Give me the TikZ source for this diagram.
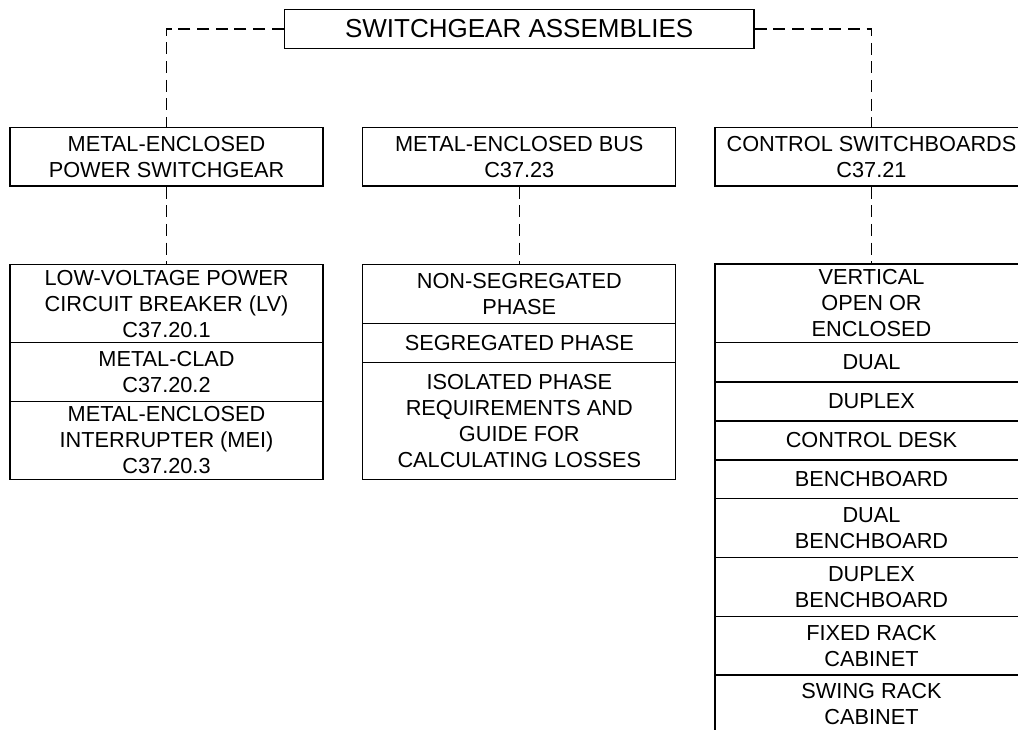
\documentclass[tikz,border=0pt]{standalone}
\usepackage{fontspec}
\setmainfont{Liberation Sans}
\usepackage{tikz}
\usetikzlibrary{positioning}

\tikzset{
    box/.style={draw, rectangle, line width=0.9pt, minimum width=234.75pt, inner sep=0pt, align=center, font=\fontsize{16.3}{19.5}\selectfont},
    oneline/.style={box, anchor=north, minimum height=29.25pt},
    twoline/.style={box, anchor=north, minimum height=44pt},
    threeline/.style={box, anchor=north, minimum height=58.7pt},
    fourline/.style={box, anchor=north, minimum height=88pt},
    link/.style={line width=0.9pt, dash pattern=on 9pt off 5pt}
}

\begin{document}
\begin{tikzpicture}[x=0.75pt, y=-0.75pt]
    \useasboundingbox (0,0) rectangle (1018,730);
    \clip (0,0) rectangle (1018,730);

    % Top level
    \node[draw, rectangle, line width=0.9pt, minimum width=352.3pt, minimum height=29.5pt, inner sep=0pt, font=\fontsize{19.5}{23}\selectfont] (sga) at (519.2,29) {SWITCHGEAR ASSEMBLIES};

    % Families
    \node[twoline] (mesw) at (166.5,126.7) {METAL-ENCLOSED\\POWER SWITCHGEAR};
    \node[twoline] (mebus) at (519.3,126.7) {METAL-ENCLOSED BUS\\C37.23};
    \node[twoline] (csw) at (871.5,126.7) {CONTROL SWITCHBOARDS\\C37.21};

    % Switchgear types
    \node[threeline] (lv) at (166.5,264) {LOW-VOLTAGE POWER\\CIRCUIT BREAKER (LV)\\C37.20.1};
    \node[twoline] (mclad) at (166.5,342) {METAL-CLAD\\C37.20.2};
    \node[threeline] (mei) at (166.5,400.7) {METAL-ENCLOSED\\INTERRUPTER (MEI)\\C37.20.3};

    % Bus types
    \node[twoline] (nseg) at (519.3,264) {NON-SEGREGATED\\PHASE};
    \node[oneline] (seg) at (519.3,322.7) {SEGREGATED PHASE};
    \node[fourline] (iso) at (519.3,361.7) {ISOLATED PHASE\\REQUIREMENTS AND\\GUIDE FOR\\CALCULATING LOSSES};

    % Switchboard types
    \node[threeline] (vert) at (871.5,263.4) {VERTICAL\\OPEN OR\\ENCLOSED};
    \node[oneline] (dual) at (871.5,341.7) {DUAL};
    \node[oneline] (duplex) at (871.5,381.4) {DUPLEX};
    \node[oneline] (desk) at (871.5,420.4) {CONTROL DESK};
    \node[oneline] (bench) at (871.5,459.3) {BENCHBOARD};
    \node[twoline] (dbench) at (871.5,498.3) {DUAL\\BENCHBOARD};
    \node[twoline] (dxbench) at (871.5,557.2) {DUPLEX\\BENCHBOARD};
    \node[twoline] (fixed) at (871.5,615.9) {FIXED RACK\\CABINET};
    \node[twoline] (swing) at (871.5,674.4) {SWING RACK\\CABINET};

    % Connectors
    \draw[link] (sga.west) -| (mesw.north);
    \draw[link] (sga.east) -| (csw.north);
    \draw[link] (mesw.south) -- (lv.north);
    \draw[link] (mebus.south) -- (nseg.north);
    \draw[link] (csw.south) -- (vert.north);
\end{tikzpicture}
\end{document}
